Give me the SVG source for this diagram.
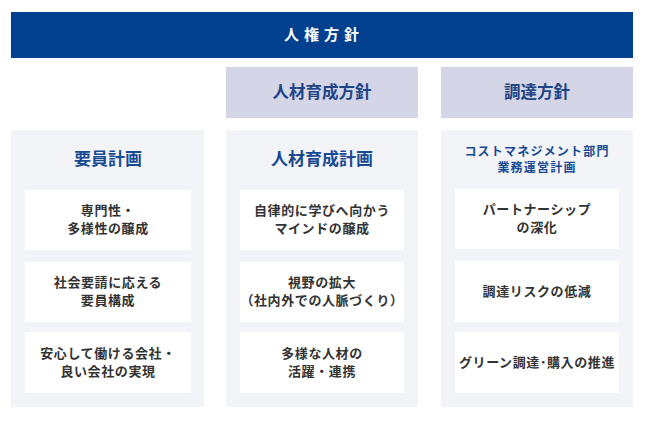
<svg xmlns="http://www.w3.org/2000/svg" width="654" height="424" viewBox="0 0 654 424">
<style>
text{font-family:"Noto Sans CJK JP","Noto Sans",sans-serif;font-weight:bold;text-anchor:middle}
.bar{fill:#01408f}
.sub{fill:#d4d5e7}
.col{fill:#f3f4f7}
.card{fill:#ffffff}
.t-top{fill:#ffffff;font-size:15px;letter-spacing:5px}
.t-sub{fill:#1e4486;font-size:16.5px}
.t-col{fill:#174a93;font-size:17px}
.t-col2{fill:#174a93;font-size:12px;letter-spacing:1.2px}
.t-card{fill:#333333;font-size:13px;letter-spacing:0.6px}
</style>
<rect x="0" y="0" width="654" height="424" fill="#ffffff"/>
<g id="policy-top">
<rect class="bar" x="11" y="12" width="622" height="46"/>
<text class="t-top" x="324" y="40">人権方針</text>
</g>
<g id="policy-hr">
<rect class="sub" x="226" y="67" width="192" height="51"/>
<text class="t-sub" x="322" y="98">人材育成方針</text>
</g>
<g id="policy-proc">
<rect class="sub" x="441" y="67" width="192" height="51"/>
<text class="t-sub" x="537" y="98">調達方針</text>
</g>
<g id="col-staff">
<rect class="col" x="11" y="130" width="193" height="277"/>
<text class="t-col" x="108" y="165">要員計画</text>
</g>
<g id="col-hrplan">
<rect class="col" x="226" y="130" width="192" height="277"/>
<text class="t-col" x="322" y="165">人材育成計画</text>
</g>
<g id="col-cost">
<rect class="col" x="441" y="130" width="192" height="277"/>
<text class="t-col2" x="537" y="156">コストマネジメント部門</text>
<text class="t-col2" x="537" y="172">業務運営計画</text>
</g>
<g id="s1">
<rect class="card" x="25" y="190" width="166" height="60"/>
<text class="t-card" x="108" y="215">専門性・</text>
<text class="t-card" x="108" y="233">多様性の醸成</text>
</g>
<g id="s2">
<rect class="card" x="25" y="262" width="166" height="60"/>
<text class="t-card" x="108" y="287">社会要請に応える</text>
<text class="t-card" x="108" y="305">要員構成</text>
</g>
<g id="s3">
<rect class="card" x="25" y="332" width="166" height="61"/>
<text class="t-card" x="108" y="358">安心して働ける会社・</text>
<text class="t-card" x="108" y="376">良い会社の実現</text>
</g>
<g id="h1">
<rect class="card" x="240" y="190" width="164" height="60"/>
<text class="t-card" x="322" y="215">自律的に学びへ向かう</text>
<text class="t-card" x="322" y="233">マインドの醸成</text>
</g>
<g id="h2">
<rect class="card" x="240" y="262" width="164" height="60"/>
<text class="t-card" x="322" y="287">視野の拡大</text>
<text class="t-card" x="322" y="305">（社内外での人脈づくり）</text>
</g>
<g id="h3">
<rect class="card" x="240" y="332" width="164" height="61"/>
<text class="t-card" x="322" y="358">多様な人材の</text>
<text class="t-card" x="322" y="376">活躍・連携</text>
</g>
<g id="c1">
<rect class="card" x="455" y="189" width="164" height="60"/>
<text class="t-card" x="537" y="214">パートナーシップ</text>
<text class="t-card" x="537" y="232">の深化</text>
</g>
<g id="c2">
<rect class="card" x="455" y="261" width="164" height="61"/>
<text class="t-card" x="537" y="296">調達リスクの低減</text>
</g>
<g id="c3">
<rect class="card" x="455" y="332" width="164" height="61"/>
<text class="t-card" x="537" y="367">グリーン調達･購入の推進</text>
</g>
<g id="connectors"></g>
</svg>
